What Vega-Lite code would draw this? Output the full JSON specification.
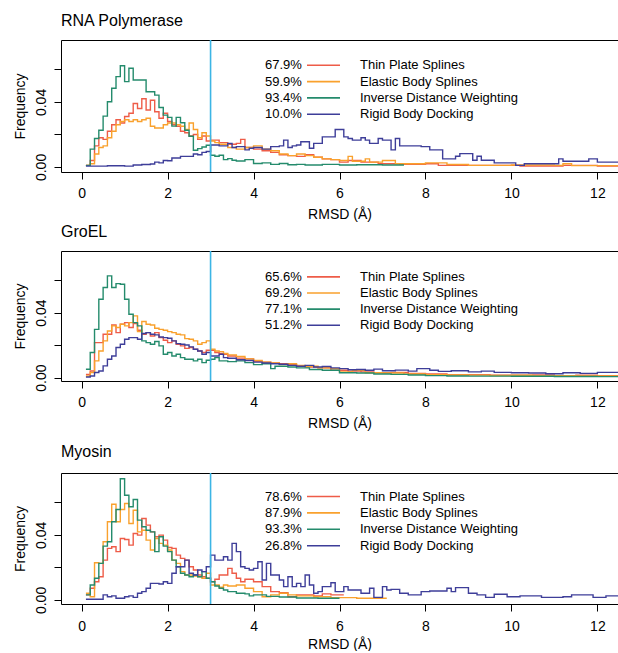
{
  "$schema": "https://vega.github.io/schema/vega-lite/v6.json",
  "padding": {"left": 12, "top": 13, "right": 0, "bottom": 0},
  "autosize": {"type": "pad"},
  "config": {
    "font": "Liberation Sans",
    "view": {"stroke": null},
    "axis": {"grid": false, "domainColor": "#000", "tickColor": "#000", "labelColor": "#000", "titleColor": "#000", "labelFontSize": 14, "titleFontSize": 14, "titleFontWeight": "normal", "tickSize": 7, "domainWidth": 1, "tickWidth": 1, "labelFont": "Liberation Sans", "titleFont": "Liberation Sans"},
    "title": {"anchor": "start", "frame": "group", "fontSize": 16, "fontWeight": "normal", "offset": 10, "color": "#000", "font": "Liberation Sans"},
    "legend": {"labelFontSize": 13, "labelColor": "#000", "labelFont": "Liberation Sans", "padding": 0, "rowPadding": 2.3}
  },
  "datasets": {
    "k1": [{"s":"T","name":"Thin Plate Splines","pct":"67.9%","k":1},{"s":"E","name":"Elastic Body Splines","pct":"59.9%","k":2},{"s":"I","name":"Inverse Distance Weighting","pct":"93.4%","k":3},{"s":"R","name":"Rigid Body Docking","pct":"10.0%","k":4}],
    "k2": [{"s":"T","name":"Thin Plate Splines","pct":"65.6%","k":1},{"s":"E","name":"Elastic Body Splines","pct":"69.2%","k":2},{"s":"I","name":"Inverse Distance Weighting","pct":"77.1%","k":3},{"s":"R","name":"Rigid Body Docking","pct":"51.2%","k":4}],
    "k3": [{"s":"T","name":"Thin Plate Splines","pct":"78.6%","k":1},{"s":"E","name":"Elastic Body Splines","pct":"87.9%","k":2},{"s":"I","name":"Inverse Distance Weighting","pct":"93.3%","k":3},{"s":"R","name":"Rigid Body Docking","pct":"26.8%","k":4}],
    "p1": [
      {"s":"T","x":0.1,"y":0.001},{"s":"T","x":0.2,"y":0.004},{"s":"T","x":0.3,"y":0.013},{"s":"T","x":0.4,"y":0.018},{"s":"T","x":0.5,"y":0.017},{"s":"T","x":0.6,"y":0.022},{"s":"T","x":0.7,"y":0.026},{"s":"T","x":0.8,"y":0.029},{"s":"T","x":0.9,"y":0.027},{"s":"T","x":1.0,"y":0.031},{"s":"T","x":1.1,"y":0.033},{"s":"T","x":1.2,"y":0.039},{"s":"T","x":1.3,"y":0.036},{"s":"T","x":1.4,"y":0.042},{"s":"T","x":1.5,"y":0.035},{"s":"T","x":1.6,"y":0.041},{"s":"T","x":1.7,"y":0.034},{"s":"T","x":1.8,"y":0.030},{"s":"T","x":1.9,"y":0.033},{"s":"T","x":2.0,"y":0.028},{"s":"T","x":2.1,"y":0.026},{"s":"T","x":2.2,"y":0.025},{"s":"T","x":2.3,"y":0.022},{"s":"T","x":2.4,"y":0.021},{"s":"T","x":2.5,"y":0.019},{"s":"T","x":2.6,"y":0.020},{"s":"T","x":2.7,"y":0.017},{"s":"T","x":2.8,"y":0.019},{"s":"T","x":2.9,"y":0.016},{"s":"T","x":3.0,"y":0.0165},{"s":"T","x":3.2,"y":0.015},{"s":"T","x":3.4,"y":0.014},{"s":"T","x":3.6,"y":0.0145},{"s":"T","x":3.7,"y":0.017},{"s":"T","x":3.8,"y":0.012},{"s":"T","x":4.0,"y":0.011},{"s":"T","x":4.2,"y":0.010},{"s":"T","x":4.4,"y":0.009},{"s":"T","x":4.6,"y":0.0075},{"s":"T","x":4.8,"y":0.007},{"s":"T","x":5.0,"y":0.0065},{"s":"T","x":5.2,"y":0.0075},{"s":"T","x":5.4,"y":0.006},{"s":"T","x":5.6,"y":0.005},{"s":"T","x":5.8,"y":0.0045},{"s":"T","x":6.0,"y":0.003},{"s":"T","x":6.2,"y":0.004},{"s":"T","x":6.5,"y":0.003},{"s":"T","x":6.9,"y":0.002},{"s":"T","x":7.4,"y":0.0017},{"s":"T","x":8.0,"y":0.002},{"s":"T","x":8.3,"y":0.001},{"s":"T","x":10.2,"y":0.0006},{"s":"T","x":11.2,"y":0.001},{"s":"T","x":12.0,"y":0.0006},{"s":"T","x":12.5,"y":0.0006},
      {"s":"E","x":0.1,"y":0.001},{"s":"E","x":0.2,"y":0.002},{"s":"E","x":0.3,"y":0.008},{"s":"E","x":0.4,"y":0.012},{"s":"E","x":0.5,"y":0.013},{"s":"E","x":0.6,"y":0.018},{"s":"E","x":0.7,"y":0.022},{"s":"E","x":0.8,"y":0.026},{"s":"E","x":0.9,"y":0.028},{"s":"E","x":1.0,"y":0.029},{"s":"E","x":1.1,"y":0.028},{"s":"E","x":1.2,"y":0.029},{"s":"E","x":1.3,"y":0.028},{"s":"E","x":1.4,"y":0.029},{"s":"E","x":1.5,"y":0.030},{"s":"E","x":1.6,"y":0.025},{"s":"E","x":1.7,"y":0.024},{"s":"E","x":1.8,"y":0.024},{"s":"E","x":1.9,"y":0.026},{"s":"E","x":2.0,"y":0.027},{"s":"E","x":2.1,"y":0.027},{"s":"E","x":2.2,"y":0.026},{"s":"E","x":2.3,"y":0.025},{"s":"E","x":2.4,"y":0.023},{"s":"E","x":2.5,"y":0.027},{"s":"E","x":2.6,"y":0.023},{"s":"E","x":2.7,"y":0.018},{"s":"E","x":2.8,"y":0.021},{"s":"E","x":2.9,"y":0.019},{"s":"E","x":3.0,"y":0.016},{"s":"E","x":3.1,"y":0.015},{"s":"E","x":3.2,"y":0.014},{"s":"E","x":3.4,"y":0.012},{"s":"E","x":3.6,"y":0.011},{"s":"E","x":3.8,"y":0.012},{"s":"E","x":4.0,"y":0.013},{"s":"E","x":4.2,"y":0.011},{"s":"E","x":4.4,"y":0.010},{"s":"E","x":4.6,"y":0.008},{"s":"E","x":4.8,"y":0.007},{"s":"E","x":5.0,"y":0.008},{"s":"E","x":5.2,"y":0.007},{"s":"E","x":5.4,"y":0.006},{"s":"E","x":5.6,"y":0.005},{"s":"E","x":5.8,"y":0.0045},{"s":"E","x":6.0,"y":0.004},{"s":"E","x":6.2,"y":0.0065},{"s":"E","x":6.3,"y":0.0035},{"s":"E","x":6.6,"y":0.005},{"s":"E","x":6.7,"y":0.003},{"s":"E","x":7.0,"y":0.004},{"s":"E","x":7.3,"y":0.002},{"s":"E","x":8.0,"y":0.0025},{"s":"E","x":8.5,"y":0.0015},{"s":"E","x":9.0,"y":0.001},{"s":"E","x":10.0,"y":0.0012},{"s":"E","x":11.0,"y":0.001},{"s":"E","x":11.2,"y":0.002},{"s":"E","x":11.4,"y":0.0008},{"s":"E","x":12.5,"y":0.0008},
      {"s":"I","x":0.1,"y":0.001},{"s":"I","x":0.2,"y":0.011},{"s":"I","x":0.3,"y":0.0175},{"s":"I","x":0.4,"y":0.0226},{"s":"I","x":0.5,"y":0.0313},{"s":"I","x":0.6,"y":0.0401},{"s":"I","x":0.7,"y":0.0484},{"s":"I","x":0.8,"y":0.0556},{"s":"I","x":0.9,"y":0.0623},{"s":"I","x":1.0,"y":0.0525},{"s":"I","x":1.1,"y":0.0607},{"s":"I","x":1.2,"y":0.0535},{"s":"I","x":1.3,"y":0.0535},{"s":"I","x":1.4,"y":0.0535},{"s":"I","x":1.5,"y":0.0463},{"s":"I","x":1.6,"y":0.0463},{"s":"I","x":1.7,"y":0.0442},{"s":"I","x":1.8,"y":0.0366},{"s":"I","x":1.9,"y":0.0319},{"s":"I","x":2.0,"y":0.0305},{"s":"I","x":2.1,"y":0.0251},{"s":"I","x":2.2,"y":0.0305},{"s":"I","x":2.3,"y":0.0272},{"s":"I","x":2.4,"y":0.0226},{"s":"I","x":2.5,"y":0.0189},{"s":"I","x":2.6,"y":0.0103},{"s":"I","x":2.7,"y":0.0113},{"s":"I","x":2.8,"y":0.0123},{"s":"I","x":2.9,"y":0.0134},{"s":"I","x":3.0,"y":0.0072},{"s":"I","x":3.1,"y":0.0066},{"s":"I","x":3.2,"y":0.0072},{"s":"I","x":3.3,"y":0.0045},{"s":"I","x":3.4,"y":0.0051},{"s":"I","x":3.5,"y":0.0041},{"s":"I","x":3.6,"y":0.0037},{"s":"I","x":3.8,"y":0.0045},{"s":"I","x":4.0,"y":0.0021},{"s":"I","x":4.2,"y":0.0025},{"s":"I","x":4.4,"y":0.0016},{"s":"I","x":4.6,"y":0.0021},{"s":"I","x":4.8,"y":0.0014},{"s":"I","x":5.0,"y":0.0016},{"s":"I","x":5.2,"y":0.0012},{"s":"I","x":5.6,"y":0.0016},{"s":"I","x":6.0,"y":0.0012},{"s":"I","x":6.4,"y":0.0014},{"s":"I","x":7.0,"y":0.0012},{"s":"I","x":7.5,"y":0.0012},
      {"s":"R","x":0.1,"y":0.0005},{"s":"R","x":0.6,"y":0.0007},{"s":"R","x":1.0,"y":0.0005},{"s":"R","x":1.2,"y":0.0012},{"s":"R","x":1.4,"y":0.0015},{"s":"R","x":1.6,"y":0.0018},{"s":"R","x":1.7,"y":0.003},{"s":"R","x":1.8,"y":0.0025},{"s":"R","x":1.9,"y":0.004},{"s":"R","x":2.0,"y":0.0038},{"s":"R","x":2.1,"y":0.0055},{"s":"R","x":2.3,"y":0.0065},{"s":"R","x":2.5,"y":0.0065},{"s":"R","x":2.6,"y":0.008},{"s":"R","x":2.7,"y":0.0075},{"s":"R","x":2.8,"y":0.009},{"s":"R","x":2.9,"y":0.0095},{"s":"R","x":3.0,"y":0.0135},{"s":"R","x":3.2,"y":0.013},{"s":"R","x":3.4,"y":0.0145},{"s":"R","x":3.5,"y":0.012},{"s":"R","x":3.6,"y":0.0125},{"s":"R","x":3.8,"y":0.0105},{"s":"R","x":3.9,"y":0.0115},{"s":"R","x":4.0,"y":0.012},{"s":"R","x":4.2,"y":0.011},{"s":"R","x":4.4,"y":0.0125},{"s":"R","x":4.6,"y":0.013},{"s":"R","x":4.7,"y":0.0165},{"s":"R","x":4.8,"y":0.012},{"s":"R","x":4.9,"y":0.013},{"s":"R","x":5.0,"y":0.0135},{"s":"R","x":5.1,"y":0.0155},{"s":"R","x":5.3,"y":0.0115},{"s":"R","x":5.4,"y":0.0145},{"s":"R","x":5.6,"y":0.0185},{"s":"R","x":5.9,"y":0.023},{"s":"R","x":6.1,"y":0.0185},{"s":"R","x":6.2,"y":0.0175},{"s":"R","x":6.3,"y":0.0165},{"s":"R","x":6.5,"y":0.018},{"s":"R","x":6.6,"y":0.0165},{"s":"R","x":6.7,"y":0.0145},{"s":"R","x":6.9,"y":0.0175},{"s":"R","x":7.0,"y":0.0165},{"s":"R","x":7.2,"y":0.0105},{"s":"R","x":7.3,"y":0.0175},{"s":"R","x":7.4,"y":0.013},{"s":"R","x":7.9,"y":0.0125},{"s":"R","x":8.1,"y":0.0105},{"s":"R","x":8.4,"y":0.005},{"s":"R","x":8.7,"y":0.0066},{"s":"R","x":8.8,"y":0.0082},{"s":"R","x":9.1,"y":0.0041},{"s":"R","x":9.2,"y":0.0066},{"s":"R","x":9.3,"y":0.0041},{"s":"R","x":9.6,"y":0.0025},{"s":"R","x":10.1,"y":0.001},{"s":"R","x":10.3,"y":0.002},{"s":"R","x":11.1,"y":0.005},{"s":"R","x":11.2,"y":0.0035},{"s":"R","x":11.8,"y":0.005},{"s":"R","x":12.0,"y":0.003},{"s":"R","x":12.5,"y":0.003}
    ],
    "p2": [
      {"s":"T","x":0.1,"y":0.002},{"s":"T","x":0.2,"y":0.0041},{"s":"T","x":0.3,"y":0.0215},{"s":"T","x":0.4,"y":0.0215},{"s":"T","x":0.5,"y":0.0267},{"s":"T","x":0.6,"y":0.0267},{"s":"T","x":0.7,"y":0.0324},{"s":"T","x":0.8,"y":0.0277},{"s":"T","x":0.9,"y":0.0328},{"s":"T","x":1.0,"y":0.0338},{"s":"T","x":1.1,"y":0.0308},{"s":"T","x":1.2,"y":0.0332},{"s":"T","x":1.3,"y":0.0291},{"s":"T","x":1.4,"y":0.0267},{"s":"T","x":1.5,"y":0.0277},{"s":"T","x":1.6,"y":0.0256},{"s":"T","x":1.7,"y":0.0277},{"s":"T","x":1.8,"y":0.0246},{"s":"T","x":1.9,"y":0.023},{"s":"T","x":2.0,"y":0.0215},{"s":"T","x":2.1,"y":0.0226},{"s":"T","x":2.2,"y":0.0205},{"s":"T","x":2.3,"y":0.0195},{"s":"T","x":2.4,"y":0.018},{"s":"T","x":2.5,"y":0.0185},{"s":"T","x":2.6,"y":0.0174},{"s":"T","x":2.7,"y":0.0164},{"s":"T","x":2.8,"y":0.0154},{"s":"T","x":2.9,"y":0.0168},{"s":"T","x":3.0,"y":0.0168},{"s":"T","x":3.1,"y":0.0154},{"s":"T","x":3.2,"y":0.0148},{"s":"T","x":3.3,"y":0.0144},{"s":"T","x":3.4,"y":0.0133},{"s":"T","x":3.6,"y":0.012},{"s":"T","x":3.8,"y":0.0115},{"s":"T","x":4.0,"y":0.010},{"s":"T","x":4.2,"y":0.0095},{"s":"T","x":4.4,"y":0.009},{"s":"T","x":4.6,"y":0.0085},{"s":"T","x":4.8,"y":0.008},{"s":"T","x":5.0,"y":0.007},{"s":"T","x":5.2,"y":0.0065},{"s":"T","x":5.5,"y":0.006},{"s":"T","x":5.8,"y":0.0045},{"s":"T","x":6.2,"y":0.004},{"s":"T","x":6.5,"y":0.0035},{"s":"T","x":6.8,"y":0.003},{"s":"T","x":7.2,"y":0.0032},{"s":"T","x":7.6,"y":0.0025},{"s":"T","x":8.0,"y":0.0022},{"s":"T","x":8.5,"y":0.0018},{"s":"T","x":9.0,"y":0.0018},{"s":"T","x":9.5,"y":0.0015},{"s":"T","x":10.0,"y":0.0014},{"s":"T","x":10.5,"y":0.0016},{"s":"T","x":11.0,"y":0.0012},{"s":"T","x":11.5,"y":0.0014},{"s":"T","x":12.0,"y":0.0012},{"s":"T","x":12.5,"y":0.0012},
      {"s":"E","x":0.1,"y":0.001},{"s":"E","x":0.2,"y":0.0031},{"s":"E","x":0.3,"y":0.0103},{"s":"E","x":0.4,"y":0.0164},{"s":"E","x":0.5,"y":0.0226},{"s":"E","x":0.6,"y":0.0287},{"s":"E","x":0.7,"y":0.0318},{"s":"E","x":0.8,"y":0.0308},{"s":"E","x":0.9,"y":0.0328},{"s":"E","x":1.0,"y":0.0318},{"s":"E","x":1.1,"y":0.0338},{"s":"E","x":1.2,"y":0.038},{"s":"E","x":1.3,"y":0.0283},{"s":"E","x":1.4,"y":0.0345},{"s":"E","x":1.5,"y":0.0328},{"s":"E","x":1.6,"y":0.0324},{"s":"E","x":1.7,"y":0.0304},{"s":"E","x":1.8,"y":0.0297},{"s":"E","x":1.9,"y":0.0291},{"s":"E","x":2.0,"y":0.0283},{"s":"E","x":2.1,"y":0.0277},{"s":"E","x":2.2,"y":0.0267},{"s":"E","x":2.3,"y":0.0263},{"s":"E","x":2.4,"y":0.024},{"s":"E","x":2.5,"y":0.0236},{"s":"E","x":2.6,"y":0.0226},{"s":"E","x":2.7,"y":0.0205},{"s":"E","x":2.8,"y":0.0215},{"s":"E","x":2.9,"y":0.0226},{"s":"E","x":3.0,"y":0.0174},{"s":"E","x":3.1,"y":0.0164},{"s":"E","x":3.2,"y":0.016},{"s":"E","x":3.3,"y":0.0148},{"s":"E","x":3.4,"y":0.014},{"s":"E","x":3.6,"y":0.013},{"s":"E","x":3.8,"y":0.0115},{"s":"E","x":4.0,"y":0.0105},{"s":"E","x":4.2,"y":0.0095},{"s":"E","x":4.4,"y":0.009},{"s":"E","x":4.6,"y":0.008},{"s":"E","x":4.8,"y":0.0085},{"s":"E","x":5.0,"y":0.0075},{"s":"E","x":5.2,"y":0.007},{"s":"E","x":5.5,"y":0.006},{"s":"E","x":5.8,"y":0.0055},{"s":"E","x":6.0,"y":0.0035},{"s":"E","x":6.3,"y":0.0045},{"s":"E","x":6.6,"y":0.003},{"s":"E","x":7.0,"y":0.0028},{"s":"E","x":7.5,"y":0.0022},{"s":"E","x":8.0,"y":0.0018},{"s":"E","x":8.5,"y":0.0016},{"s":"E","x":9.0,"y":0.0015},{"s":"E","x":9.5,"y":0.0013},{"s":"E","x":10.0,"y":0.0014},{"s":"E","x":10.5,"y":0.0011},{"s":"E","x":11.0,"y":0.0012},{"s":"E","x":11.5,"y":0.001},{"s":"E","x":12.0,"y":0.001},{"s":"E","x":12.5,"y":0.001},
      {"s":"I","x":0.1,"y":0.0051},{"s":"I","x":0.2,"y":0.0154},{"s":"I","x":0.3,"y":0.0297},{"s":"I","x":0.4,"y":0.0482},{"s":"I","x":0.5,"y":0.0554},{"s":"I","x":0.6,"y":0.0626},{"s":"I","x":0.7,"y":0.0554},{"s":"I","x":0.8,"y":0.0578},{"s":"I","x":0.9,"y":0.0574},{"s":"I","x":1.0,"y":0.0482},{"s":"I","x":1.1,"y":0.039},{"s":"I","x":1.2,"y":0.0338},{"s":"I","x":1.3,"y":0.0318},{"s":"I","x":1.4,"y":0.0226},{"s":"I","x":1.5,"y":0.0215},{"s":"I","x":1.6,"y":0.0205},{"s":"I","x":1.7,"y":0.0222},{"s":"I","x":1.8,"y":0.0195},{"s":"I","x":1.9,"y":0.0144},{"s":"I","x":2.0,"y":0.0154},{"s":"I","x":2.1,"y":0.0133},{"s":"I","x":2.2,"y":0.0144},{"s":"I","x":2.3,"y":0.0123},{"s":"I","x":2.4,"y":0.0113},{"s":"I","x":2.6,"y":0.0103},{"s":"I","x":2.7,"y":0.0113},{"s":"I","x":2.8,"y":0.0092},{"s":"I","x":2.9,"y":0.0107},{"s":"I","x":3.0,"y":0.0113},{"s":"I","x":3.1,"y":0.0123},{"s":"I","x":3.2,"y":0.0103},{"s":"I","x":3.4,"y":0.0098},{"s":"I","x":3.6,"y":0.0103},{"s":"I","x":3.8,"y":0.0092},{"s":"I","x":4.0,"y":0.008},{"s":"I","x":4.2,"y":0.0085},{"s":"I","x":4.4,"y":0.0055},{"s":"I","x":4.5,"y":0.007},{"s":"I","x":4.8,"y":0.0065},{"s":"I","x":5.0,"y":0.006},{"s":"I","x":5.3,"y":0.005},{"s":"I","x":5.6,"y":0.0045},{"s":"I","x":6.0,"y":0.003},{"s":"I","x":6.4,"y":0.0028},{"s":"I","x":6.8,"y":0.0022},{"s":"I","x":7.2,"y":0.002},{"s":"I","x":7.6,"y":0.0016},{"s":"I","x":8.0,"y":0.0012},{"s":"I","x":8.5,"y":0.001},{"s":"I","x":9.0,"y":0.0009},{"s":"I","x":10.0,"y":0.0008},{"s":"I","x":11.0,"y":0.0007},{"s":"I","x":12.0,"y":0.0006},{"s":"I","x":12.5,"y":0.0006},
      {"s":"R","x":0.1,"y":0.0004},{"s":"R","x":0.2,"y":0.001},{"s":"R","x":0.3,"y":0.0031},{"s":"R","x":0.4,"y":0.0041},{"s":"R","x":0.5,"y":0.0072},{"s":"R","x":0.6,"y":0.0113},{"s":"R","x":0.7,"y":0.0133},{"s":"R","x":0.8,"y":0.0185},{"s":"R","x":0.9,"y":0.0205},{"s":"R","x":1.0,"y":0.0236},{"s":"R","x":1.1,"y":0.0246},{"s":"R","x":1.3,"y":0.0236},{"s":"R","x":1.4,"y":0.0271},{"s":"R","x":1.5,"y":0.0277},{"s":"R","x":1.6,"y":0.0267},{"s":"R","x":1.7,"y":0.0263},{"s":"R","x":1.8,"y":0.025},{"s":"R","x":1.9,"y":0.0246},{"s":"R","x":2.0,"y":0.0242},{"s":"R","x":2.1,"y":0.0226},{"s":"R","x":2.2,"y":0.0209},{"s":"R","x":2.3,"y":0.0205},{"s":"R","x":2.4,"y":0.0201},{"s":"R","x":2.5,"y":0.0189},{"s":"R","x":2.6,"y":0.0174},{"s":"R","x":2.7,"y":0.0164},{"s":"R","x":2.8,"y":0.0144},{"s":"R","x":2.9,"y":0.0154},{"s":"R","x":3.0,"y":0.0133},{"s":"R","x":3.2,"y":0.0144},{"s":"R","x":3.3,"y":0.0123},{"s":"R","x":3.4,"y":0.0119},{"s":"R","x":3.6,"y":0.011},{"s":"R","x":3.8,"y":0.0105},{"s":"R","x":4.0,"y":0.0095},{"s":"R","x":4.2,"y":0.009},{"s":"R","x":4.4,"y":0.0085},{"s":"R","x":4.6,"y":0.0082},{"s":"R","x":4.8,"y":0.0075},{"s":"R","x":5.0,"y":0.007},{"s":"R","x":5.2,"y":0.0075},{"s":"R","x":5.4,"y":0.0065},{"s":"R","x":5.6,"y":0.0068},{"s":"R","x":5.8,"y":0.006},{"s":"R","x":6.0,"y":0.0055},{"s":"R","x":6.2,"y":0.0048},{"s":"R","x":6.4,"y":0.005},{"s":"R","x":6.6,"y":0.0045},{"s":"R","x":6.8,"y":0.0052},{"s":"R","x":7.0,"y":0.0042},{"s":"R","x":7.3,"y":0.0046},{"s":"R","x":7.6,"y":0.004},{"s":"R","x":7.8,"y":0.0055},{"s":"R","x":8.1,"y":0.0045},{"s":"R","x":8.3,"y":0.0038},{"s":"R","x":8.6,"y":0.0042},{"s":"R","x":9.0,"y":0.0035},{"s":"R","x":9.3,"y":0.004},{"s":"R","x":9.6,"y":0.0032},{"s":"R","x":10.0,"y":0.003},{"s":"R","x":10.4,"y":0.0028},{"s":"R","x":10.8,"y":0.0024},{"s":"R","x":11.2,"y":0.003},{"s":"R","x":11.6,"y":0.0026},{"s":"R","x":12.0,"y":0.0032},{"s":"R","x":12.5,"y":0.0032}
    ],
    "p3": [
      {"s":"T","x":0.1,"y":0.0031},{"s":"T","x":0.2,"y":0.0072},{"s":"T","x":0.3,"y":0.0112},{"s":"T","x":0.4,"y":0.0143},{"s":"T","x":0.5,"y":0.0245},{"s":"T","x":0.6,"y":0.0317},{"s":"T","x":0.7,"y":0.0327},{"s":"T","x":0.8,"y":0.0297},{"s":"T","x":0.9,"y":0.0378},{"s":"T","x":1.0,"y":0.0372},{"s":"T","x":1.1,"y":0.0337},{"s":"T","x":1.2,"y":0.0409},{"s":"T","x":1.3,"y":0.0399},{"s":"T","x":1.4,"y":0.0501},{"s":"T","x":1.5,"y":0.046},{"s":"T","x":1.6,"y":0.0419},{"s":"T","x":1.7,"y":0.0389},{"s":"T","x":1.8,"y":0.0399},{"s":"T","x":1.9,"y":0.0368},{"s":"T","x":2.0,"y":0.0323},{"s":"T","x":2.1,"y":0.0317},{"s":"T","x":2.2,"y":0.0276},{"s":"T","x":2.3,"y":0.0256},{"s":"T","x":2.4,"y":0.0245},{"s":"T","x":2.5,"y":0.0204},{"s":"T","x":2.6,"y":0.0184},{"s":"T","x":2.7,"y":0.0153},{"s":"T","x":2.8,"y":0.0143},{"s":"T","x":2.9,"y":0.0133},{"s":"T","x":3.0,"y":0.0112},{"s":"T","x":3.1,"y":0.0127},{"s":"T","x":3.2,"y":0.0153},{"s":"T","x":3.4,"y":0.0194},{"s":"T","x":3.5,"y":0.0164},{"s":"T","x":3.6,"y":0.0133},{"s":"T","x":3.7,"y":0.0112},{"s":"T","x":3.8,"y":0.0127},{"s":"T","x":4.0,"y":0.0112},{"s":"T","x":4.2,"y":0.0082},{"s":"T","x":4.4,"y":0.0051},{"s":"T","x":4.6,"y":0.0045},{"s":"T","x":4.8,"y":0.002},{"s":"T","x":5.0,"y":0.0031},{"s":"T","x":5.4,"y":0.0025},{"s":"T","x":5.6,"y":0.0037},{"s":"T","x":5.8,"y":0.0031},{"s":"T","x":6.1,"y":0.0031},
      {"s":"E","x":0.1,"y":0.0041},{"s":"E","x":0.2,"y":0.002},{"s":"E","x":0.3,"y":0.0229},{"s":"E","x":0.4,"y":0.0225},{"s":"E","x":0.5,"y":0.0358},{"s":"E","x":0.6,"y":0.0481},{"s":"E","x":0.7,"y":0.0589},{"s":"E","x":0.8,"y":0.0481},{"s":"E","x":0.9,"y":0.0556},{"s":"E","x":1.0,"y":0.0593},{"s":"E","x":1.1,"y":0.047},{"s":"E","x":1.2,"y":0.0552},{"s":"E","x":1.3,"y":0.0419},{"s":"E","x":1.4,"y":0.0429},{"s":"E","x":1.5,"y":0.0368},{"s":"E","x":1.6,"y":0.0307},{"s":"E","x":1.7,"y":0.0378},{"s":"E","x":1.8,"y":0.0348},{"s":"E","x":1.9,"y":0.0337},{"s":"E","x":2.0,"y":0.0307},{"s":"E","x":2.1,"y":0.0245},{"s":"E","x":2.2,"y":0.0225},{"s":"E","x":2.3,"y":0.0174},{"s":"E","x":2.4,"y":0.0153},{"s":"E","x":2.6,"y":0.0147},{"s":"E","x":2.7,"y":0.0143},{"s":"E","x":2.8,"y":0.0133},{"s":"E","x":2.9,"y":0.0164},{"s":"E","x":3.0,"y":0.0092},{"s":"E","x":3.2,"y":0.0078},{"s":"E","x":3.3,"y":0.0092},{"s":"E","x":3.4,"y":0.0086},{"s":"E","x":3.6,"y":0.0092},{"s":"E","x":3.8,"y":0.0072},{"s":"E","x":4.0,"y":0.0051},{"s":"E","x":4.2,"y":0.002},{"s":"E","x":4.4,"y":0.0031},{"s":"E","x":4.6,"y":0.0041},{"s":"E","x":4.8,"y":0.0031},{"s":"E","x":5.0,"y":0.0025},{"s":"E","x":5.4,"y":0.002},{"s":"E","x":5.8,"y":0.0014},{"s":"E","x":6.4,"y":0.001},{"s":"E","x":7.1,"y":0.001},
      {"s":"I","x":0.1,"y":0.0031},{"s":"I","x":0.2,"y":0.0092},{"s":"I","x":0.3,"y":0.0133},{"s":"I","x":0.4,"y":0.0225},{"s":"I","x":0.5,"y":0.0331},{"s":"I","x":0.6,"y":0.0358},{"s":"I","x":0.7,"y":0.0481},{"s":"I","x":0.8,"y":0.0556},{"s":"I","x":0.9,"y":0.0746},{"s":"I","x":1.0,"y":0.0644},{"s":"I","x":1.1,"y":0.0573},{"s":"I","x":1.2,"y":0.0618},{"s":"I","x":1.3,"y":0.0491},{"s":"I","x":1.4,"y":0.045},{"s":"I","x":1.5,"y":0.0429},{"s":"I","x":1.6,"y":0.0419},{"s":"I","x":1.7,"y":0.0297},{"s":"I","x":1.8,"y":0.0389},{"s":"I","x":1.9,"y":0.0331},{"s":"I","x":2.0,"y":0.0297},{"s":"I","x":2.1,"y":0.0245},{"s":"I","x":2.2,"y":0.0204},{"s":"I","x":2.3,"y":0.0164},{"s":"I","x":2.4,"y":0.0153},{"s":"I","x":2.5,"y":0.0143},{"s":"I","x":2.6,"y":0.0153},{"s":"I","x":2.7,"y":0.0143},{"s":"I","x":2.8,"y":0.0174},{"s":"I","x":2.9,"y":0.0133},{"s":"I","x":3.0,"y":0.0112},{"s":"I","x":3.1,"y":0.0086},{"s":"I","x":3.2,"y":0.0072},{"s":"I","x":3.3,"y":0.0061},{"s":"I","x":3.4,"y":0.0051},{"s":"I","x":3.6,"y":0.0041},{"s":"I","x":3.8,"y":0.0037},{"s":"I","x":3.9,"y":0.0025},{"s":"I","x":4.0,"y":0.0031},{"s":"I","x":4.3,"y":0.0022},{"s":"I","x":4.6,"y":0.0018},{"s":"I","x":5.0,"y":0.0012},{"s":"I","x":5.5,"y":0.001},{"s":"I","x":6.0,"y":0.001},
      {"s":"R","x":0.1,"y":0.0004},{"s":"R","x":0.5,"y":0.0031},{"s":"R","x":0.6,"y":0.002},{"s":"R","x":0.7,"y":0.0025},{"s":"R","x":0.8,"y":0.001},{"s":"R","x":1.0,"y":0.002},{"s":"R","x":1.1,"y":0.0025},{"s":"R","x":1.2,"y":0.0016},{"s":"R","x":1.3,"y":0.0041},{"s":"R","x":1.4,"y":0.0051},{"s":"R","x":1.5,"y":0.0072},{"s":"R","x":1.6,"y":0.0102},{"s":"R","x":1.8,"y":0.0098},{"s":"R","x":1.9,"y":0.0112},{"s":"R","x":2.0,"y":0.0102},{"s":"R","x":2.1,"y":0.0164},{"s":"R","x":2.2,"y":0.0204},{"s":"R","x":2.4,"y":0.0245},{"s":"R","x":2.5,"y":0.0164},{"s":"R","x":2.6,"y":0.0153},{"s":"R","x":2.7,"y":0.0184},{"s":"R","x":2.8,"y":0.0174},{"s":"R","x":2.9,"y":0.0204},{"s":"R","x":3.0,"y":0.0276},{"s":"R","x":3.1,"y":0.0245},{"s":"R","x":3.3,"y":0.0266},{"s":"R","x":3.4,"y":0.0245},{"s":"R","x":3.5,"y":0.0348},{"s":"R","x":3.6,"y":0.0297},{"s":"R","x":3.7,"y":0.0204},{"s":"R","x":3.8,"y":0.0194},{"s":"R","x":3.9,"y":0.0184},{"s":"R","x":4.0,"y":0.0194},{"s":"R","x":4.1,"y":0.0235},{"s":"R","x":4.2,"y":0.0123},{"s":"R","x":4.3,"y":0.0225},{"s":"R","x":4.4,"y":0.0153},{"s":"R","x":4.6,"y":0.0123},{"s":"R","x":4.7,"y":0.0082},{"s":"R","x":4.8,"y":0.0143},{"s":"R","x":4.9,"y":0.0082},{"s":"R","x":5.0,"y":0.0102},{"s":"R","x":5.1,"y":0.0082},{"s":"R","x":5.2,"y":0.0153},{"s":"R","x":5.3,"y":0.0092},{"s":"R","x":5.4,"y":0.0041},{"s":"R","x":5.5,"y":0.0051},{"s":"R","x":5.6,"y":0.0082},{"s":"R","x":5.8,"y":0.0106},{"s":"R","x":5.9,"y":0.0051},{"s":"R","x":6.1,"y":0.0082},{"s":"R","x":6.2,"y":0.0061},{"s":"R","x":6.5,"y":0.0041},{"s":"R","x":6.7,"y":0.0072},{"s":"R","x":6.8,"y":0.0016},{"s":"R","x":7.0,"y":0.0082},{"s":"R","x":7.1,"y":0.0061},{"s":"R","x":7.2,"y":0.0065},{"s":"R","x":7.4,"y":0.0041},{"s":"R","x":7.6,"y":0.0031},{"s":"R","x":7.9,"y":0.0051},{"s":"R","x":8.1,"y":0.0055},{"s":"R","x":8.5,"y":0.0072},{"s":"R","x":8.6,"y":0.0051},{"s":"R","x":8.7,"y":0.0076},{"s":"R","x":9.0,"y":0.0041},{"s":"R","x":9.2,"y":0.0031},{"s":"R","x":9.4,"y":0.0016},{"s":"R","x":9.6,"y":0.0035},{"s":"R","x":9.9,"y":0.002},{"s":"R","x":10.2,"y":0.0025},{"s":"R","x":10.7,"y":0.0016},{"s":"R","x":11.2,"y":0.002},{"s":"R","x":11.4,"y":0.0031},{"s":"R","x":11.9,"y":0.0016},{"s":"R","x":12.2,"y":0.0025},{"s":"R","x":12.5,"y":0.0025}
    ]
  },
  "resolve": {"scale": {"x": "independent", "y": "independent", "color": "independent", "opacity": "independent"}, "legend": {"color": "independent", "opacity": "independent"}, "axis": {"x": "independent", "y": "independent"}},
  "spacing": 13,
  "vconcat": [
    {
      "spacing": 2,
      "resolve": {"scale": {"x": "independent", "y": "independent", "color": "independent", "opacity": "independent"}, "legend": {"color": "independent", "opacity": "independent"}, "axis": {"x": "independent", "y": "independent"}},
      "vconcat": [
        {
          "title": "RNA Polymerase",
          "width": 557, "height": 132,
          "resolve": {"axis": {"x": "independent"}},
          "layer": [
            {
              "data": {"name": "p1"},
              "transform": [{"lookup": "s", "from": {"data": {"name": "k1"}, "key": "s", "fields": ["name", "pct", "k"]}}],
              "mark": {"type": "line", "interpolate": "step-after", "strokeWidth": 1.4, "clip": true},
              "encoding": {
                "x": {"field": "x", "type": "quantitative", "scale": {"domain": [-0.48, 12.48], "nice": false, "zero": false}, "axis": {"values": [0, 2, 4, 6, 8, 10, 12], "title": "RMSD (Å)", "labelPadding": 7.5, "titlePadding": 7, "labelFlush": false}},
                "y": {"field": "y", "type": "quantitative", "scale": {"domain": [-0.0031, 0.0781], "nice": false, "zero": false}, "axis": {"values": [0, 0.02, 0.04, 0.06], "format": ".2f", "labelExpr": "datum.label == '0.00' || datum.label == '0.04' ? datum.label : ''", "labelAngle": 270, "labelAlign": "center", "labelBaseline": "alphabetic", "labelPadding": 9, "labelOverlap": false, "title": "Frequency", "titlePadding": 7}},
                "color": {"field": "name", "type": "nominal", "scale": {"domain": ["Thin Plate Splines", "Elastic Body Splines", "Inverse Distance Weighting", "Rigid Body Docking"], "range": ["#EE5C48", "#F9A12D", "#248B6C", "#3E3E99"]}, "legend": {"orient": "none", "legendX": 256, "legendY": 18.8, "title": null, "symbolType": "M-3,0H3", "symbolSize": 121, "symbolStrokeWidth": 1.6, "labelOffset": 30, "labelLimit": 300}},
                "opacity": {"field": "pct", "type": "ordinal", "sort": {"field": "k", "op": "min"}, "scale": {"range": [1, 1, 1, 1]}, "legend": {"orient": "none", "legendX": 191, "legendY": 18.8, "title": null, "symbolOpacity": 0, "symbolSize": 0, "symbolStrokeWidth": 0, "labelOffset": 0}}
              }
            },
            {
              "data": {"values": [{"t": 3}]},
              "mark": {"type": "rule", "color": "#3CB5E5", "strokeWidth": 1.6},
              "encoding": {"x": {"field": "t", "type": "quantitative", "scale": {"domain": [-0.48, 12.48], "nice": false, "zero": false}, "axis": {"orient": "top", "labels": false, "ticks": false, "title": null}}}
            }
          ]
        },
        {
          "title": "GroEL",
          "width": 557, "height": 130,
          "resolve": {"axis": {"x": "independent"}},
          "layer": [
            {
              "data": {"name": "p2"},
              "transform": [{"lookup": "s", "from": {"data": {"name": "k2"}, "key": "s", "fields": ["name", "pct", "k"]}}],
              "mark": {"type": "line", "interpolate": "step-after", "strokeWidth": 1.4, "clip": true},
              "encoding": {
                "x": {"field": "x", "type": "quantitative", "scale": {"domain": [-0.48, 12.48], "nice": false, "zero": false}, "axis": {"values": [0, 2, 4, 6, 8, 10, 12], "title": "RMSD (Å)", "labelPadding": 7.5, "titlePadding": 7, "labelFlush": false}},
                "y": {"field": "y", "type": "quantitative", "scale": {"domain": [-0.0021, 0.0779], "nice": false, "zero": false}, "axis": {"values": [0, 0.02, 0.04, 0.06], "format": ".2f", "labelExpr": "datum.label == '0.00' || datum.label == '0.04' ? datum.label : ''", "labelAngle": 270, "labelAlign": "center", "labelBaseline": "alphabetic", "labelPadding": 9, "labelOverlap": false, "title": "Frequency", "titlePadding": 7}},
                "color": {"field": "name", "type": "nominal", "scale": {"domain": ["Thin Plate Splines", "Elastic Body Splines", "Inverse Distance Weighting", "Rigid Body Docking"], "range": ["#EE5C48", "#F9A12D", "#248B6C", "#3E3E99"]}, "legend": {"orient": "none", "legendX": 256, "legendY": 19.4, "title": null, "symbolType": "M-3,0H3", "symbolSize": 121, "symbolStrokeWidth": 1.6, "labelOffset": 30, "labelLimit": 300, "rowPadding": 2.1}},
                "opacity": {"field": "pct", "type": "ordinal", "sort": {"field": "k", "op": "min"}, "scale": {"range": [1, 1, 1, 1]}, "legend": {"orient": "none", "legendX": 191, "legendY": 19.4, "title": null, "symbolOpacity": 0, "symbolSize": 0, "symbolStrokeWidth": 0, "labelOffset": 0, "rowPadding": 2.1}}
              }
            },
            {
              "data": {"values": [{"t": 3}]},
              "mark": {"type": "rule", "color": "#3CB5E5", "strokeWidth": 1.6},
              "encoding": {"x": {"field": "t", "type": "quantitative", "scale": {"domain": [-0.48, 12.48], "nice": false, "zero": false}, "axis": {"orient": "top", "labels": false, "ticks": false, "title": null}}}
            }
          ]
        }
      ]
    },
    {
      "title": {"text": "Myosin", "offset": 12},
      "width": 557, "height": 131,
      "resolve": {"axis": {"x": "independent"}},
      "layer": [
        {
          "data": {"name": "p3"},
          "transform": [{"lookup": "s", "from": {"data": {"name": "k3"}, "key": "s", "fields": ["name", "pct", "k"]}}],
          "mark": {"type": "line", "interpolate": "step-after", "strokeWidth": 1.4, "clip": true},
          "encoding": {
            "x": {"field": "x", "type": "quantitative", "scale": {"domain": [-0.48, 12.48], "nice": false, "zero": false}, "axis": {"values": [0, 2, 4, 6, 8, 10, 12], "title": "RMSD (Å)", "labelPadding": 8, "titlePadding": 4, "labelFlush": false}},
            "y": {"field": "y", "type": "quantitative", "scale": {"domain": [-0.0025, 0.0781], "nice": false, "zero": false}, "axis": {"values": [0, 0.02, 0.04, 0.06], "format": ".2f", "labelExpr": "datum.label == '0.00' || datum.label == '0.04' ? datum.label : ''", "labelAngle": 270, "labelAlign": "center", "labelBaseline": "alphabetic", "labelPadding": 9, "labelOverlap": false, "title": "Frequency", "titlePadding": 7}},
            "color": {"field": "name", "type": "nominal", "scale": {"domain": ["Thin Plate Splines", "Elastic Body Splines", "Inverse Distance Weighting", "Rigid Body Docking"], "range": ["#EE5C48", "#F9A12D", "#248B6C", "#3E3E99"]}, "legend": {"orient": "none", "legendX": 256, "legendY": 17, "title": null, "symbolType": "M-3,0H3", "symbolSize": 121, "symbolStrokeWidth": 1.6, "labelOffset": 30, "labelLimit": 300, "rowPadding": 2.4}},
            "opacity": {"field": "pct", "type": "ordinal", "sort": {"field": "k", "op": "min"}, "scale": {"range": [1, 1, 1, 1]}, "legend": {"orient": "none", "legendX": 191, "legendY": 17, "title": null, "symbolOpacity": 0, "symbolSize": 0, "symbolStrokeWidth": 0, "labelOffset": 0, "rowPadding": 2.4}}
          }
        },
        {
          "data": {"values": [{"t": 3}]},
          "mark": {"type": "rule", "color": "#3CB5E5", "strokeWidth": 1.6},
          "encoding": {"x": {"field": "t", "type": "quantitative", "scale": {"domain": [-0.48, 12.48], "nice": false, "zero": false}, "axis": {"orient": "top", "labels": false, "ticks": false, "title": null}}}
        }
      ]
    }
  ]
}
